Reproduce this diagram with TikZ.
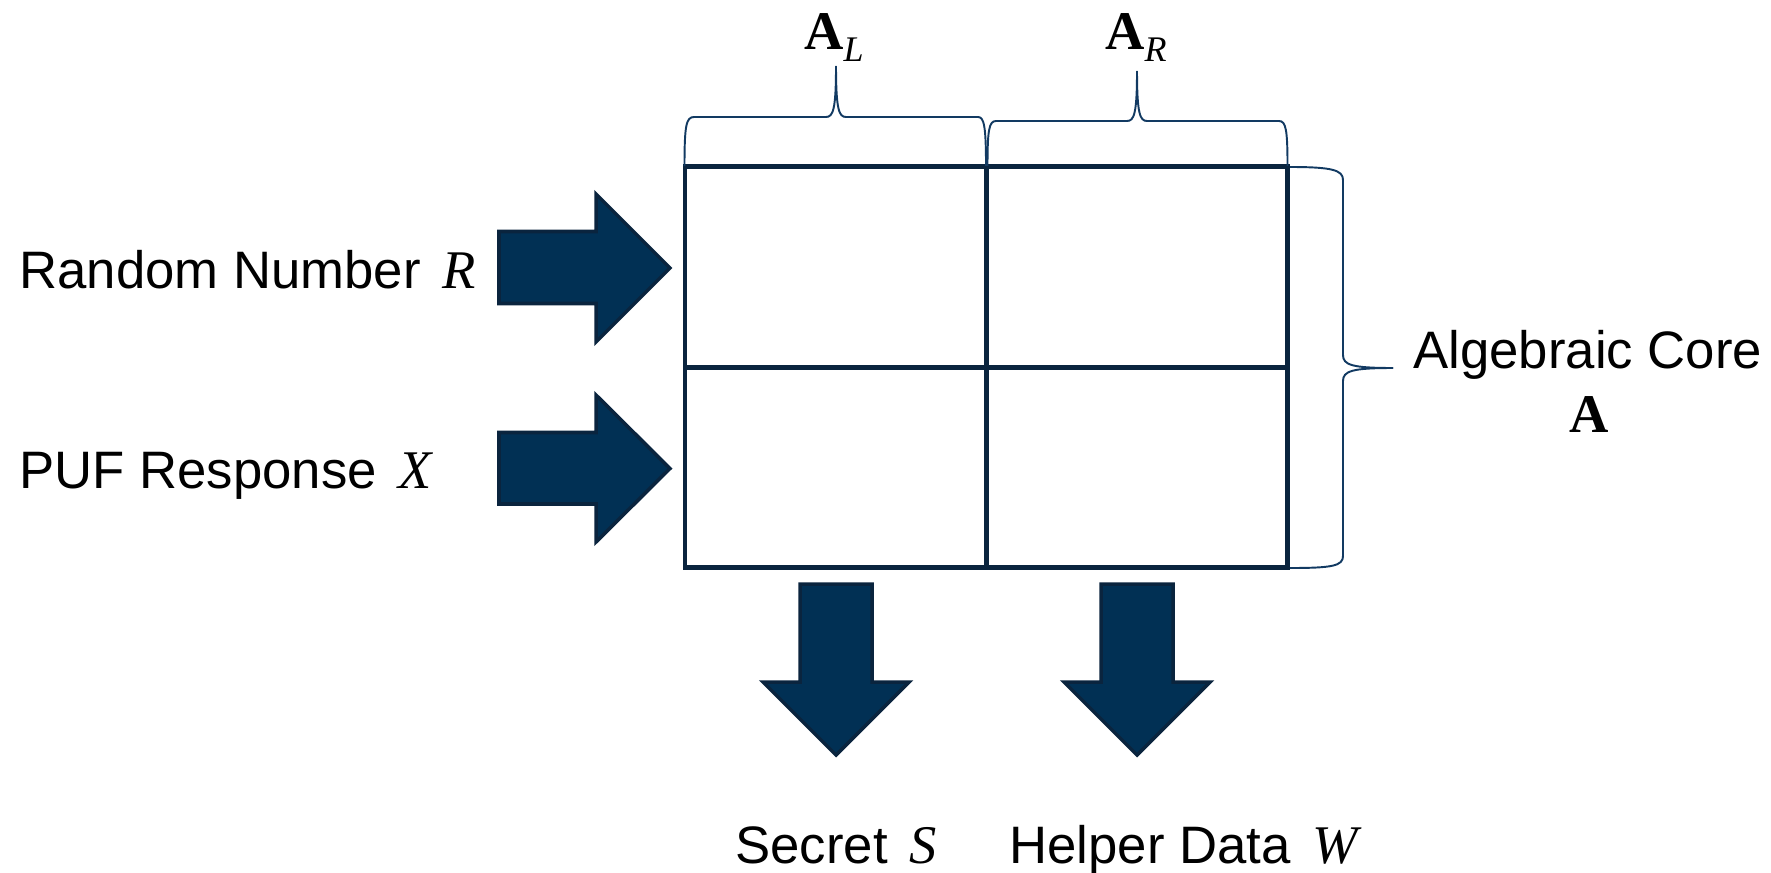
\documentclass[tikz,border=0pt]{standalone}
\usepackage{fontspec}
\setmainfont{Liberation Sans}
\newfontfamily\mathserif{Liberation Serif}
\newcommand{\mvar}[1]{{\mathserif\itshape #1}}
\newcommand{\mbold}[1]{{\mathserif\bfseries #1}}
\newcommand{\tvar}[1]{\hspace{0.14em}{\mathserif\itshape\fontsize{31}{36}\selectfont #1}}
\definecolor{navy}{RGB}{1,48,84}
\definecolor{navyedge}{RGB}{10,36,62}
\definecolor{bracecol}{RGB}{18,58,98}

\begin{document}
\begin{tikzpicture}[x=0.02cm,y=-0.02cm,
  cell/.style={draw=navyedge, line width=2.6pt, minimum width=6.04cm,
    minimum height=4.01cm, inner sep=0pt, outer sep=0pt},
  bigarrow/.style={fill=navy, draw=navyedge, line width=2pt, line join=miter},
  bracepath/.style={draw=bracecol, line width=1.1pt},
  txt/.style={font=\fontsize{30}{36}\selectfont, inner sep=0pt},
  boldlbl/.style={font=\fontsize{31}{36}\selectfont, inner sep=0pt},
]
\useasboundingbox (0,0) rectangle (1771,872);

% the four blocks of the core matrix
\node[cell] (c11) at (835.75,267) {};
\node[cell] (c12) at (1136.75,267) {};
\node[cell] (c21) at (835.75,467.5) {};
\node[cell] (c22) at (1136.75,467.5) {};

% input arrows
\draw[bigarrow] (499,231.5) -- (596,231.5) -- (596,194) -- (670,268)
  -- (596,342) -- (596,303.5) -- (499,303.5) -- cycle;
\draw[bigarrow] (499,432.5) -- (596,432.5) -- (596,395) -- (670,468.5)
  -- (596,542) -- (596,504) -- (499,504) -- cycle;

% output arrows
\draw[bigarrow] (800,584) -- (872,584) -- (872,682) -- (909,682)
  -- (836,755) -- (763,682) -- (800,682) -- cycle;
\draw[bigarrow] (1101,584) -- (1173,584) -- (1173,682) -- (1210,682)
  -- (1137,755) -- (1064,682) -- (1101,682) -- cycle;

% brace over the left column
\draw[bracepath] (684.5,166) .. controls (684.5,126) and (686,117) .. (694,117)
  -- (826,117) .. controls (833,117) and (836,110) .. (836,66);
\draw[bracepath] (836,66) .. controls (836,110) and (839,117) .. (846,117)
  -- (978,117) .. controls (984,117) and (986,126) .. (986,166);
% brace over the right column
\draw[bracepath] (987.5,166) .. controls (987.5,130) and (989,121) .. (996,121)
  -- (1127,121) .. controls (1134,121) and (1137,114) .. (1137,71);
\draw[bracepath] (1137,71) .. controls (1137,114) and (1140,121) .. (1147,121)
  -- (1279,121) .. controls (1286,121) and (1287.5,130) .. (1287.5,166);
% brace beside the whole core
\draw[bracepath] (1290,167) .. controls (1332,167) and (1343,170) .. (1343,180)
  -- (1343,355) .. controls (1343,365) and (1352,368) .. (1393,368);
\draw[bracepath] (1393,368) .. controls (1352,368) and (1343,371) .. (1343,381)
  -- (1343,556) .. controls (1343,566) and (1332,568) .. (1290,568);

% labels
\node[boldlbl, anchor=base west] (al) at (804,50)
  {\mbold{A}\raisebox{-6.8pt}{\fontsize{20.5}{24}\selectfont\mvar{L}}};
\node[boldlbl, anchor=base west] (ar) at (1105,50)
  {\mbold{A}\raisebox{-6.8pt}{\fontsize{20.5}{24}\selectfont\mvar{R}}};
\node[txt, anchor=base west] (rn) at (19,288) {Random Number \tvar{R}};
\node[txt, anchor=base west] (puf) at (19,488) {PUF Response \tvar{X}};
\node[txt, anchor=base west] (alg) at (1413,368) {Algebraic Core};
\node[boldlbl, anchor=base] (amat) at (1589,432) {\mbold{A}};
\node[txt, anchor=base west] (sec) at (735,863) {Secret \tvar{S}};
\node[txt, anchor=base west] (help) at (1009,863) {Helper Data \tvar{W}};
\end{tikzpicture}
\end{document}
